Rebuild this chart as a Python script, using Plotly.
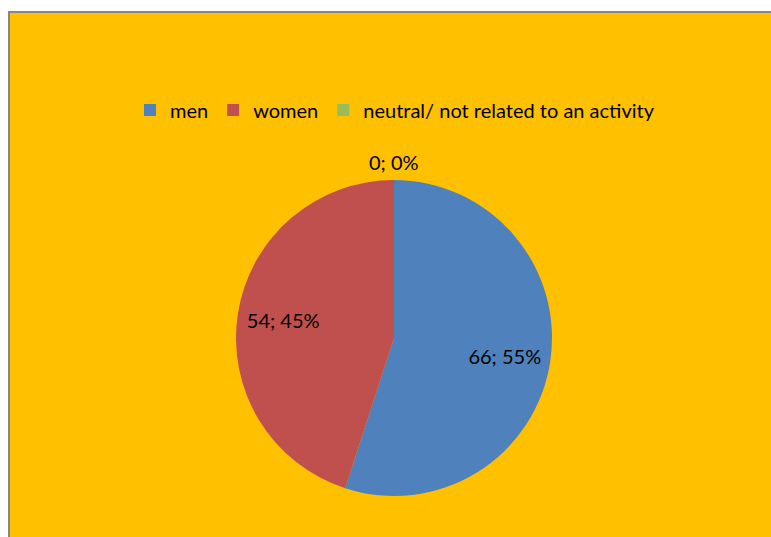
import plotly.graph_objects as go

labels = ["men", "women", "neutral/ not related to an activity"]
values = [66, 54, 0]
colors = ["#4F81BD", "#C0504D", "#9BBB59"]

W, H = 771, 537
cx, cy, r = 394, 338, 158
FONT = "Lato"
FS = 20

dom = dict(x=[(cx - r) / W, (cx + r) / W], y=[1 - (cy + r) / H, 1 - (cy - r) / H])
total = sum(values)

# main pie (slices + legend)
fig = go.Figure(go.Pie(
    labels=labels,
    values=values,
    marker=dict(colors=colors, line=dict(width=0)),
    sort=False,
    direction="clockwise",
    rotation=0,
    textinfo="none",
    domain=dom,
    automargin=False,
    hoverinfo="label+value+percent",
))

# label layer: same data, transparent ring so labels sit further out like Excel
label_text = [f"{v}; {round(100 * v / total)}%" if v > 0 else "" for v in values]
fig.add_trace(go.Pie(
    labels=labels,
    values=values,
    hole=0.42,
    marker=dict(colors=["rgba(0,0,0,0)"] * 3, line=dict(width=0)),
    sort=False,
    direction="clockwise",
    rotation=0,
    text=label_text,
    textinfo="text",
    textposition="inside",
    insidetextorientation="horizontal",
    textfont=dict(family=FONT, size=FS, color="#000000"),
    domain=dom,
    automargin=False,
    showlegend=False,
    hoverinfo="skip",
))

zero_labels = [f"{v}; {round(100 * v / total)}%" for v in values if v == 0]

fig.update_layout(
    width=W, height=H,
    margin=dict(l=0, r=0, t=0, b=0),
    paper_bgcolor="white",
    shapes=[dict(type="rect", xref="paper", yref="paper",
                 x0=9 / W, x1=1.02, y0=-0.02, y1=1 - 12 / H,
                 fillcolor="#FFC000", line=dict(color="#878787", width=2), layer="below")],
    annotations=[dict(xref="paper", yref="paper", x=cx / W, y=1 - 162 / H,
                      text=t, showarrow=False, xanchor="center", yanchor="middle",
                      font=dict(family=FONT, size=FS, color="#000000")) for t in zero_labels],
    legend=dict(orientation="h", x=395 / W, xanchor="center", y=1 - 110 / H, yanchor="middle",
                font=dict(family=FONT, size=FS, color="#000000"), bgcolor="rgba(0,0,0,0)",
                itemwidth=30, tracegroupgap=0),
    showlegend=True,
)

fig.write_html(
    "out.html",
    config={"displayModeBar": False},
    post_script="document.body.style.margin='0';document.body.style.overflow='hidden';",
)
